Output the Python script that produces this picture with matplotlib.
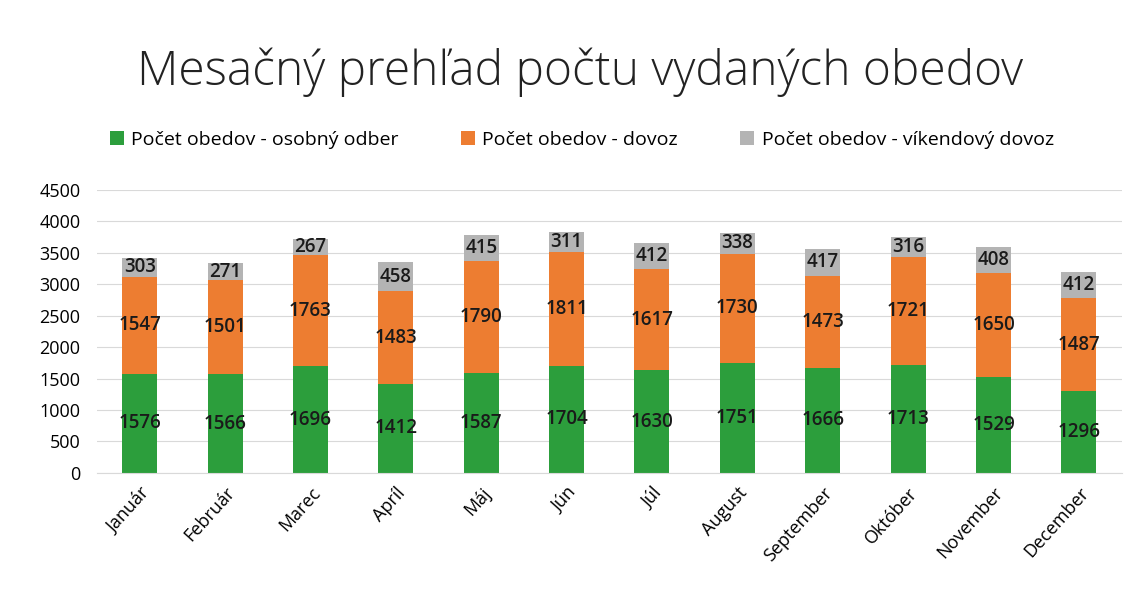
import numpy as np
import matplotlib.pyplot as plt

months = ["Január", "Február", "Marec", "Apríl", "Máj", "Jún", "Júl",
          "August", "September", "Október", "November", "December"]
osobny = [1576, 1566, 1696, 1412, 1587, 1704, 1630, 1751, 1666, 1713, 1529, 1296]
dovoz = [1547, 1501, 1763, 1483, 1790, 1811, 1617, 1730, 1473, 1721, 1650, 1487]
vikend = [303, 271, 267, 458, 415, 311, 412, 338, 417, 316, 408, 412]
series_names = ["Počet obedov - osobný odber", "Počet obedov - dovoz",
                "Počet obedov - víkendový dovoz"]
colors = ["#2c9e3c", "#ed7d31", "#b4b4b4"]

plt.rcParams['font.family'] = ['Open Sans', 'DejaVu Sans']

fig = plt.figure(figsize=(11.41, 5.94), dpi=100)
ax = fig.add_axes([0.085, 0.204, 0.898, 0.476])

x = np.arange(len(months))
bottom = np.zeros(len(months))
for vals, name, c in zip([osobny, dovoz, vikend], series_names, colors):
    vals = np.array(vals)
    bars = ax.bar(x, vals, 0.41, bottom=bottom, color=c, label=name, zorder=2)
    ax.bar_label(bars, labels=[str(v) for v in vals], label_type='center',
                 fontsize=13.5, fontweight='semibold', color="#1a1a1a", zorder=3)
    bottom += vals

ax.set_xlim(-0.5, len(months) - 0.5)
ax.set_ylim(0, 4500)
ax.set_yticks(np.arange(0, 4501, 500))
ax.set_xticks(x)
ax.set_xticklabels(months, rotation=48, ha='right', rotation_mode='anchor', fontsize=13)
ax.tick_params(axis='y', labelsize=13, length=0, pad=12)
ax.tick_params(axis='x', length=0, pad=8)
ax.grid(axis='y', color="#d9d9d9", linewidth=0.8, zorder=0)
for s in ["top", "right", "left"]:
    ax.spines[s].set_visible(False)
ax.spines["bottom"].set_color("#d9d9d9")

fig.text(0.508, 0.878, "Mesačný prehľad počtu vydaných obedov", ha='center', va='center',
         fontsize=34.5, fontweight='light', color="#222222")
fig.legend(loc='center', bbox_to_anchor=(0.51, 0.765), ncol=3, frameon=False,
           fontsize=14, handlelength=0.7, handleheight=0.7, columnspacing=3.2,
           handletextpad=0.4)

fig.savefig("out.png", dpi=100)
